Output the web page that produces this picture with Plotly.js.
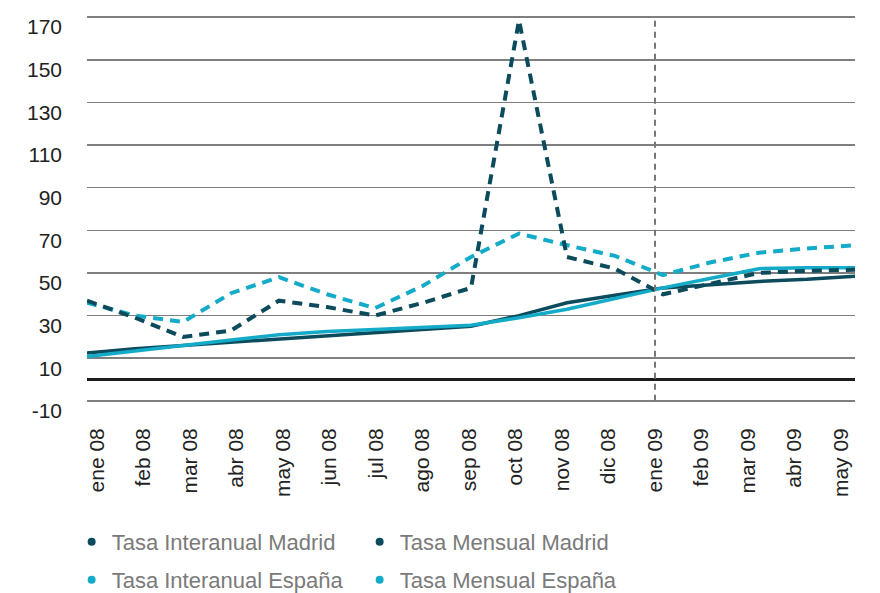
<!DOCTYPE html>
<html><head><meta charset="utf-8">
<script src="https://cdn.plot.ly/plotly-3.0.1.min.js"></script>
<style>html,body{margin:0;padding:0;background:#fff}</style>
</head><body><div id="chart" style="width:880px;height:593px"></div>
<script>
const months = ['ene 08','feb 08','mar 08','abr 08','may 08','jun 08','jul 08','ago 08','sep 08','oct 08','nov 08','dic 08','ene 09','feb 09','mar 09','abr 09','may 09'];
const interMadrid = [12.5, 14.5, 16, 17.5, 19, 20.5, 22, 23.5, 25, 30, 36, 39.5, 43, 44.5, 46, 47, 48.5];
const interEspana = [10.8, 13.5, 16, 18.5, 21, 22.5, 23.5, 24.5, 25.5, 29, 33, 38, 43, 47.5, 52, 52.5, 52.5];
const mensMadrid = [37, 29, 20, 23, 37, 34, 30, 36, 43, 168.5, 57.5, 52, 40, 45, 50, 51, 51.5];
const mensEspana = [36, 30, 27, 40.5, 48, 40, 33.5, 44, 57.5, 68.5, 63, 58, 49, 55, 59.5, 61.5, 63];
const yTicks = [-10, 10, 30, 50, 70, 90, 110, 130, 150, 170];
const yTickText = ['-10', '10', '30', '50', '70', '90', '110', '130', '150', '170'];
const names = ['Tasa Interanual Madrid', 'Tasa Mensual Madrid', 'Tasa Interanual España', 'Tasa Mensual España'];

const DARK = '#0b4b5c', CYAN = '#14abc9';
const FONT = 'Liberation Sans, Arial, sans-serif';

const traces = [
  {x: months, y: interMadrid, mode: 'lines', line: {color: DARK, width: 3.5}, showlegend: false, hoverinfo: 'skip'},
  {x: months, y: interEspana, mode: 'lines', line: {color: CYAN, width: 3.5}, showlegend: false, hoverinfo: 'skip'},
  {x: months, y: mensEspana, mode: 'lines', line: {color: CYAN, width: 4, dash: '10px,7px'}, showlegend: false, hoverinfo: 'skip'},
  {x: months, y: mensMadrid, mode: 'lines', line: {color: DARK, width: 4, dash: '10px,7px'}, showlegend: false, hoverinfo: 'skip'},
  // label axis carrier (invisible)
  {x: months, y: interMadrid, xaxis: 'x2', mode: 'lines', line: {width: 0}, opacity: 0, showlegend: false, hoverinfo: 'skip'},
  // legend entries
  {x: [null], y: [null], mode: 'markers', name: names[0], marker: {color: DARK, size: 8}, legend: 'legend'},
  {x: [null], y: [null], mode: 'markers', name: names[1], marker: {color: DARK, size: 8}, legend: 'legend'},
  {x: [null], y: [null], mode: 'markers', name: names[2], marker: {color: CYAN, size: 8}, legend: 'legend2'},
  {x: [null], y: [null], mode: 'markers', name: names[3], marker: {color: CYAN, size: 8}, legend: 'legend2'}
];

const legendBase = {orientation: 'h', xanchor: 'left', yanchor: 'middle', x: -0.02, entrywidth: 243,
  font: {family: FONT, size: 22, color: '#7a7a7a'}, bgcolor: 'rgba(0,0,0,0)'};

const layout = {
  width: 880, height: 593,
  margin: {l: 87, r: 25, t: 15, b: 190, autoexpand: false},
  paper_bgcolor: '#fff', plot_bgcolor: '#fff',
  font: {family: FONT, size: 21, color: '#222'},
  xaxis: {type: 'category', range: [0, 16], showgrid: false, zeroline: false, showline: false, showticklabels: false, ticks: '', automargin: false},
  xaxis2: {type: 'category', overlaying: 'x', anchor: 'y', side: 'bottom', range: [-0.215, 16.301], showgrid: false, zeroline: false, showline: false,
    ticks: '', tickangle: -90, tickfont: {family: FONT, size: 21, color: '#222'}, ticklabelstandoff: 20, automargin: false, ticklabeloverflow: 'allow'},
  yaxis: {range: [-11, 171], tickmode: 'array', tickvals: yTicks, ticktext: yTickText, showgrid: true, gridcolor: '#7f7f7f', gridwidth: 1.5,
    zeroline: true, zerolinecolor: '#1c1c1c', zerolinewidth: 3.5, showline: false, ticks: '', automargin: false, ticklabeloverflow: 'allow',
    tickfont: {family: FONT, size: 21, color: '#222'}, ticklabelshift: 10, ticklabelstandoff: 24},
  shapes: [{type: 'line', xref: 'x2', yref: 'y', x0: months[12], x1: months[12], y0: -10, y1: 170,
    line: {color: '#777', width: 2, dash: '6px,5px'}}],
  legend: Object.assign({}, legendBase, {y: (403 - 542) / 388}),
  legend2: Object.assign({}, legendBase, {y: (403 - 580) / 388}),
  showlegend: true
};

Plotly.newPlot('chart', traces, layout, {displayModeBar: false, staticPlot: true});
</script></body></html>
